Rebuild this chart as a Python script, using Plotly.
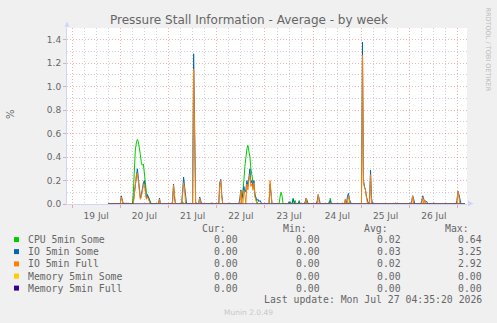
import plotly.graph_objects as go
import pandas as pd

# ---------------- data ----------------
series_names = ["CPU 5min Some", "IO 5min Some", "IO 5min Full", "Memory 5min Some", "Memory 5min Full"]

cur_vals = ["0.00", "0.00", "0.00", "0.00", "0.00"]
min_vals = ["0.00", "0.00", "0.00", "0.00", "0.00"]
avg_vals = ["0.02", "0.03", "0.02", "0.00", "0.00"]
max_vals = ["0.64", "3.25", "2.92", "0.00", "0.00"]

last_update = "Last update: Mon Jul 27 04:35:20 2026"

data_start = "2026-07-19 18:00"
data_end = "2026-07-27 03:30"

# non-zero samples (30 min averages); everything else reads as 0
cpu_times = ["07-20 02:00", "07-20 04:00",
             "07-20 06:30", "07-20 07:00", "07-20 07:30", "07-20 08:00", "07-20 08:30", "07-20 09:00",
             "07-20 09:30", "07-20 10:00", "07-20 10:30", "07-20 11:00", "07-20 11:30", "07-20 12:00",
             "07-20 12:30", "07-20 13:00", "07-20 13:30", "07-20 14:00", "07-20 14:30", "07-20 15:00",
             "07-21 07:00", "07-21 21:30", "07-22 06:30",
             "07-22 12:30", "07-22 13:00", "07-22 13:30", "07-22 14:00", "07-22 14:30", "07-22 15:00",
             "07-22 15:30", "07-22 16:00", "07-22 16:30", "07-22 17:00", "07-22 17:30", "07-22 18:00",
             "07-22 18:30", "07-22 19:00", "07-22 19:30", "07-22 20:00",
             "07-23 07:30", "07-23 08:00", "07-23 08:30",
             "07-23 12:30", "07-23 14:00", "07-23 15:00", "07-23 17:00", "07-23 20:30",
             "07-24 08:30", "07-24 14:30", "07-24 18:00"]
cpu_values = [0.01, 0.01,
              0.10, 0.30, 0.46, 0.52, 0.55, 0.53,
              0.49, 0.42, 0.35, 0.33, 0.34, 0.26,
              0.15, 0.10, 0.07, 0.06, 0.04, 0.02,
              0.02, 0.01, 0.01,
              0.02, 0.10, 0.20, 0.32, 0.42, 0.47,
              0.50, 0.46, 0.40, 0.30, 0.24, 0.16,
              0.12, 0.08, 0.04, 0.02,
              0.06, 0.10, 0.07,
              0.02, 0.05, 0.03, 0.03, 0.03,
              0.05, 0.01, 0.02]

io_some_times = ["07-20 00:30", "07-20 01:00", "07-20 03:00",
                 "07-20 06:30", "07-20 07:00", "07-20 07:30", "07-20 08:00", "07-20 08:30", "07-20 09:00",
                 "07-20 09:30", "07-20 10:00", "07-20 10:30", "07-20 11:00", "07-20 11:30", "07-20 12:00",
                 "07-20 12:30", "07-20 13:00", "07-20 13:30", "07-20 14:00", "07-20 14:30", "07-20 15:00",
                 "07-20 19:30",
                 "07-21 02:00", "07-21 02:30", "07-21 03:00",
                 "07-21 07:00", "07-21 07:30", "07-21 08:00", "07-21 08:30",
                 "07-21 12:30", "07-21 13:00", "07-21 13:30",
                 "07-21 15:30", "07-21 16:00", "07-21 21:30",
                 "07-22 01:30", "07-22 02:00", "07-22 02:30",
                 "07-22 11:30", "07-22 12:00", "07-22 12:30", "07-22 13:00", "07-22 13:30", "07-22 14:00",
                 "07-22 14:30", "07-22 15:00", "07-22 15:30", "07-22 16:00", "07-22 16:30", "07-22 17:00",
                 "07-22 17:30", "07-22 18:00", "07-22 18:30", "07-22 19:00", "07-22 19:30", "07-22 20:00",
                 "07-22 20:30", "07-22 21:00", "07-22 21:30", "07-22 22:00",
                 "07-23 02:30", "07-23 03:00",
                 "07-23 12:00", "07-23 13:30", "07-23 14:00", "07-23 14:30", "07-23 17:00",
                 "07-23 20:00", "07-23 20:30", "07-23 21:00",
                 "07-24 02:00", "07-24 02:30", "07-24 03:00",
                 "07-24 08:00", "07-24 08:30",
                 "07-24 16:00", "07-24 17:00", "07-24 17:30", "07-24 18:00", "07-24 18:30",
                 "07-25 00:30", "07-25 01:00", "07-25 01:30", "07-25 02:00", "07-25 02:30", "07-25 03:00",
                 "07-25 04:00", "07-25 04:30", "07-25 05:00",
                 "07-25 17:00",
                 "07-26 01:00", "07-26 01:30", "07-26 02:00",
                 "07-26 06:00", "07-26 06:30", "07-26 07:00", "07-26 07:30", "07-26 08:00", "07-26 08:30",
                 "07-26 12:00",
                 "07-26 23:30", "07-27 00:00", "07-27 00:30", "07-27 01:00"]
io_some_values = [0.07, 0.02, 0.01,
                  0.02, 0.10, 0.20, 0.28, 0.30, 0.22,
                  0.10, 0.05, 0.08, 0.14, 0.18, 0.20,
                  0.12, 0.05, 0.08, 0.05, 0.03, 0.01,
                  0.05,
                  0.02, 0.17, 0.05,
                  0.10, 0.23, 0.15, 0.04,
                  1.28, 0.30, 0.02,
                  0.06, 0.02, 0.01,
                  0.18, 0.21, 0.08,
                  0.05, 0.12, 0.05, 0.08, 0.15, 0.10,
                  0.12, 0.20, 0.15, 0.25, 0.30, 0.18,
                  0.20, 0.14, 0.20, 0.08, 0.05, 0.03,
                  0.04, 0.02, 0.03, 0.01,
                  0.17, 0.10,
                  0.02, 0.01, 0.04, 0.02, 0.02,
                  0.02, 0.05, 0.03,
                  0.03, 0.08, 0.04,
                  0.02, 0.03,
                  0.04, 0.06, 0.09, 0.04, 0.02,
                  1.38, 0.20, 0.15, 0.12, 0.06, 0.02,
                  0.02, 0.29, 0.05,
                  0.01,
                  0.03, 0.07, 0.04,
                  0.03, 0.07, 0.04, 0.03, 0.02, 0.02,
                  0.01,
                  0.03, 0.11, 0.08, 0.03]

io_full_times = ["07-20 00:30", "07-20 01:00",
                 "07-20 07:00", "07-20 07:30", "07-20 08:00", "07-20 08:30", "07-20 09:00",
                 "07-20 09:30", "07-20 10:00", "07-20 10:30", "07-20 11:00", "07-20 11:30", "07-20 12:00",
                 "07-20 12:30", "07-20 13:00", "07-20 13:30", "07-20 14:00", "07-20 14:30",
                 "07-20 19:30",
                 "07-21 02:30", "07-21 03:00",
                 "07-21 07:00", "07-21 07:30", "07-21 08:00",
                 "07-21 12:30", "07-21 13:00",
                 "07-21 15:30",
                 "07-22 01:30", "07-22 02:00", "07-22 02:30",
                 "07-22 12:00", "07-22 13:30", "07-22 14:00", "07-22 15:00", "07-22 15:30",
                 "07-22 16:00", "07-22 16:30", "07-22 17:00", "07-22 17:30", "07-22 18:00", "07-22 18:30",
                 "07-22 19:00", "07-22 19:30",
                 "07-23 02:30", "07-23 03:00",
                 "07-23 20:30",
                 "07-24 02:30",
                 "07-24 16:00", "07-24 17:30", "07-24 18:00",
                 "07-25 00:30", "07-25 01:00", "07-25 01:30", "07-25 02:00", "07-25 02:30",
                 "07-25 04:30",
                 "07-25 17:00",
                 "07-26 01:30",
                 "07-26 06:30", "07-26 07:30",
                 "07-27 00:00", "07-27 00:30"]
io_full_values = [0.06, 0.02,
                  0.08, 0.18, 0.25, 0.26, 0.18,
                  0.08, 0.04, 0.06, 0.12, 0.16, 0.17,
                  0.10, 0.04, 0.06, 0.04, 0.02,
                  0.04,
                  0.16, 0.04,
                  0.08, 0.18, 0.12,
                  1.15, 0.25,
                  0.05,
                  0.16, 0.20, 0.06,
                  0.11, 0.12, 0.08, 0.17, 0.12,
                  0.20, 0.25, 0.15, 0.17, 0.12, 0.18,
                  0.06, 0.03,
                  0.20, 0.12,
                  0.05,
                  0.08,
                  0.04, 0.07, 0.03,
                  1.27, 0.18, 0.14, 0.12, 0.05,
                  0.25,
                  0.01,
                  0.07,
                  0.06, 0.03,
                  0.11, 0.07]

mem_some_times = []
mem_some_values = []
mem_full_times = []
mem_full_values = []

colors = ["#00CC00", "#0066B3", "#FF8000", "#FFCC00", "#330099"]

# ---------------- build series on the 30-minute grid ----------------
grid = pd.date_range(data_start, data_end, freq="30min")


def on_grid(times, values):
    s = pd.Series(0.0, index=grid)
    for t, v in zip(times, values):
        s[pd.Timestamp("2026-" + t)] = v
    return s


series = [on_grid(cpu_times, cpu_values),
          on_grid(io_some_times, io_some_values),
          on_grid(io_full_times, io_full_values),
          on_grid(mem_some_times, mem_some_values),
          on_grid(mem_full_times, mem_full_values)]

fig = go.Figure()
for name, s, c in zip(series_names, series, colors):
    fig.add_trace(go.Scatter(x=s.index, y=s.values, mode="lines", name=name,
                             line=dict(color=c, width=1), showlegend=False,
                             hoverinfo="skip"))

# ---------------- layout ----------------
W, H = 497, 323
L, R, T, B = 67, 467, 28, 204
FONT = "#666666"
AXIS = "#CFD6F8"
MGRID = "rgba(225,60,60,0.40)"
GRID = "rgba(140,140,140,0.40)"


def px(x):
    return (x - L) / (R - L)


def py(y):
    return (B - y) / (B - T)


fig.update_layout(
    width=W, height=H,
    margin=dict(l=L, r=W - R, t=T, b=H - B, pad=0),
    paper_bgcolor="#F0F0F0", plot_bgcolor="#FFFFFF",
    font=dict(family="DejaVu Sans", size=9, color=FONT),
    xaxis=dict(
        type="date",
        range=["2026-07-18 21:30", "2026-07-27 04:30"],
        tick0="2026-07-19 00:00", dtick=86400000,
        ticklabelmode="period", tickformat="%d %b",
        showgrid=True, gridcolor=MGRID, griddash="1px,2px", gridwidth=1,
        ticks="outside", ticklen=3, tickcolor=MGRID,
        showline=True, linecolor=AXIS, linewidth=1,
        zeroline=False, fixedrange=True,
        tickfont=dict(family="DejaVu Sans", size=9, color=FONT),
        minor=dict(dtick=21600000, tick0="2026-07-19 00:00", showgrid=True,
                   gridcolor=GRID, griddash="1px,2px", gridwidth=1, ticks=""),
    ),
    yaxis=dict(
        range=[0, 1.5], tick0=0, dtick=0.2, tickformat=".1f",
        showgrid=True, gridcolor=MGRID, griddash="1px,2px", gridwidth=1,
        ticks="outside", ticklen=3, tickcolor=MGRID,
        showline=True, linecolor=AXIS, linewidth=1,
        zeroline=False, fixedrange=True,
        tickfont=dict(family="DejaVu Sans", size=9, color=FONT),
        minor=dict(dtick=0.1, tick0=0, showgrid=True,
                   gridcolor=GRID, griddash="1px,2px", gridwidth=1, ticks=""),
    ),
)

shapes = []
# axis arrows
shapes.append(dict(type="path", xref="paper", yref="paper",
                   path=f"M {px(64.5)} {py(26.7)} L {px(67)} {py(21.5)} L {px(69.5)} {py(26.7)} Z",
                   fillcolor=AXIS, line=dict(width=0)))
shapes.append(dict(type="path", xref="paper", yref="paper",
                   path=f"M {px(468)} {py(200.5)} L {px(473.5)} {py(203.5)} L {px(468)} {py(206.5)} Z",
                   fillcolor=AXIS, line=dict(width=0)))

annotations = []
annotations.append(dict(text="Pressure Stall Information - Average - by week",
                        x=px(248.5), y=py(20), xref="paper", yref="paper",
                        xanchor="center", yanchor="middle", showarrow=False,
                        font=dict(family="DejaVu Sans", size=12, color=FONT)))
annotations.append(dict(text="%", x=px(10.5), y=py(114.5), xref="paper", yref="paper",
                        xanchor="center", yanchor="middle", showarrow=False, textangle=-90,
                        font=dict(family="DejaVu Sans", size=10, color=FONT)))
annotations.append(dict(text="RRDTOOL / TOBI OETIKER", x=px(487.5), y=py(49), xref="paper", yref="paper",
                        xanchor="center", yanchor="middle", showarrow=False, textangle=90,
                        font=dict(family="DejaVu Sans", size=6.5, color="#BBBBBB")))

MONO = "DejaVu Sans Mono"
MS = 9.8
header_y = 228.5
rows_y = [239.5, 251.5, 263.8, 276.0, 288.0]
col_hdr_x = [226.7, 308.0, 389.0, 470.0]
col_val_x = [239.5, 321.5, 402.5, 483.5]
for hdr, hx in zip(["Cur:", "Min:", "Avg:", "Max:"], col_hdr_x):
    annotations.append(dict(text=hdr, x=px(hx + 1), y=py(header_y), xref="paper", yref="paper",
                            xanchor="right", yanchor="middle", showarrow=False,
                            font=dict(family=MONO, size=MS, color=FONT)))
for i, (name, c) in enumerate(zip(series_names, colors)):
    ry = rows_y[i]
    shapes.append(dict(type="rect", xref="paper", yref="paper",
                       x0=px(14), x1=px(19), y0=py(ry + 2.6), y1=py(ry - 2.4),
                       fillcolor=c, line=dict(width=0)))
    annotations.append(dict(text=name, x=px(25.7), y=py(ry), xref="paper", yref="paper",
                            xanchor="left", yanchor="middle", showarrow=False,
                            font=dict(family=MONO, size=MS, color=FONT)))
    for vals, vx in zip([cur_vals, min_vals, avg_vals, max_vals], col_val_x):
        annotations.append(dict(text=vals[i], x=px(vx), y=py(ry), xref="paper", yref="paper",
                                xanchor="right", yanchor="middle", showarrow=False,
                                font=dict(family=MONO, size=MS, color=FONT)))
annotations.append(dict(text=last_update, x=px(483.5), y=py(299.8), xref="paper", yref="paper",
                        xanchor="right", yanchor="middle", showarrow=False,
                        font=dict(family=MONO, size=MS, color=FONT)))
annotations.append(dict(text="Munin 2.0.49", x=px(248.5), y=py(312.7), xref="paper", yref="paper",
                        xanchor="center", yanchor="middle", showarrow=False,
                        font=dict(family="DejaVu Sans", size=7.5, color="#C8C8C8")))

fig.update_layout(shapes=shapes, annotations=annotations)
fig.write_html("out.html")
